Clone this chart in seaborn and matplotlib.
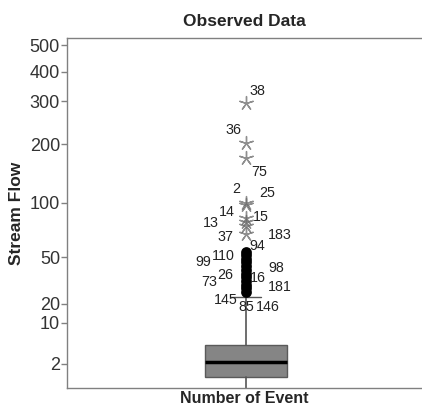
import numpy as np
import matplotlib
matplotlib.use("Agg")
import matplotlib.pyplot as plt
import seaborn as sns
import pandas as pd

# y axis tick labels
tick_values = [2, 10, 20, 50, 100, 200, 300, 400, 500]

# box summary of Stream Flow
box_q1 = 1.2
box_med = 2.15
box_q3 = 4.2
whisker_low = 0.5
whisker_high = 22.9

# outliers (circles) with case numbers
outlier_cases = [183, 94, 110, 99, 98, 26, 16, 73, 181, 145, 85, 146]
outlier_values = [53.3, 51.4, 48.2, 45.4, 42.0, 38.8, 35.9, 33.9, 31.3, 28.9, 27.3, 25.3]

# extremes (stars) with case numbers
extreme_cases = [38, 36, 75, 2, 25, 14, 13, 15, 37]
extreme_values = [294, 202, 169, 100, 97.4, 82.6, 78.3, 74.4, 67.2]

# label offsets in pixels (dx, dy)
label_offsets = {
    38: (11, 12), 36: (-13, 13), 75: (13, -14), 2: (-10, 14), 25: (21, 12),
    14: (-19, 6), 13: (-35, -1), 15: (15, 9), 37: (-21, -3),
    183: (34, 17), 94: (11, 9), 110: (-23, 3), 99: (-43, 0), 98: (30, -2),
    26: (-21, -5), 16: (12, -4), 73: (-37, -5), 181: (34, -6),
    145: (-21, -15), 85: (0, -19), 146: (22, -15),
}

# the axis of the original is not a plain log scale: piecewise mapping
anchor_vals = np.log10([0.1, 0.78, 2, 10, 20, 50, 100, 200, 300, 400, 500, 530, 5000])
anchor_pos = np.array([-0.2, 0, 0.069, 0.186, 0.240, 0.374, 0.529, 0.697, 0.820, 0.903, 0.980, 1.0, 1.3])


def fwd(v):
    v = np.clip(np.asarray(v, dtype=float), 1e-3, None)
    return np.interp(np.log10(v), anchor_vals, anchor_pos)


def inv(p):
    return 10 ** np.interp(np.asarray(p, dtype=float), anchor_pos, anchor_vals)


sns.set_style("white")
plt.rcParams['font.family'] = ['Liberation Sans', 'DejaVu Sans']

fig = plt.figure(figsize=(4.22, 4.08), dpi=100)
ax = fig.add_axes([67 / 422, 20 / 408, 355 / 422, 350 / 408])
ax.set_yscale('function', functions=(fwd, inv))

stats = [dict(med=box_med, q1=box_q1, q3=box_q3, whislo=whisker_low, whishi=whisker_high, fliers=[])]
ax.bxp(stats, positions=[0], widths=0.23, patch_artist=True, showfliers=False,
       capwidths=0.085,
       boxprops=dict(facecolor='#858585', edgecolor='#5a5a5a', linewidth=1),
       medianprops=dict(color='black', linewidth=2.5),
       whiskerprops=dict(color='#555555', linewidth=1.2),
       capprops=dict(color='#555555', linewidth=1))

out_df = pd.DataFrame({'x': 0, 'value': outlier_values, 'case': outlier_cases})
ext_df = pd.DataFrame({'x': 0, 'value': extreme_values, 'case': extreme_cases})

sns.scatterplot(data=out_df, x='x', y='value', ax=ax, color='black', edgecolor='black',
                s=60, linewidth=0, zorder=3)
sns.scatterplot(data=ext_df, x='x', y='value', ax=ax, marker=(5, 2, 0), color='#6a6a6a',
                edgecolor='#6a6a6a', s=100, linewidth=1.0, alpha=0.75, zorder=3)

for df in (out_df, ext_df):
    for case, val in zip(df['case'], df['value']):
        dx, dy = label_offsets[case]
        ax.annotate(str(case), xy=(0, val), xytext=(dx, dy), textcoords='offset pixels',
                    ha='center', va='center', fontsize=10.3, color='#222222')

ax.set_xlim(-0.505, 0.495)
ax.set_ylim(0.78, 530)
ax.set_yticks(tick_values)
ax.set_yticklabels([str(t) for t in tick_values])
ax.yaxis.set_minor_locator(matplotlib.ticker.NullLocator())
ax.set_xticks([])
ax.tick_params(axis='y', direction='out', length=4, width=1, color='#808080',
               labelsize=13, labelcolor='#333333', pad=1, left=True)

for side in ['left', 'top', 'bottom']:
    ax.spines[side].set_color('#808080')
    ax.spines[side].set_linewidth(1)
ax.spines['right'].set_visible(False)

ax.set_xlabel('Number of Event', fontsize=11.5, fontweight='bold', labelpad=2)
ax.set_ylabel('Stream Flow', fontsize=12.5, fontweight='bold', labelpad=4)
ax.set_title('Observed Data', fontsize=12.5, fontweight='bold', pad=9)

fig.savefig('out.png', dpi=100)
